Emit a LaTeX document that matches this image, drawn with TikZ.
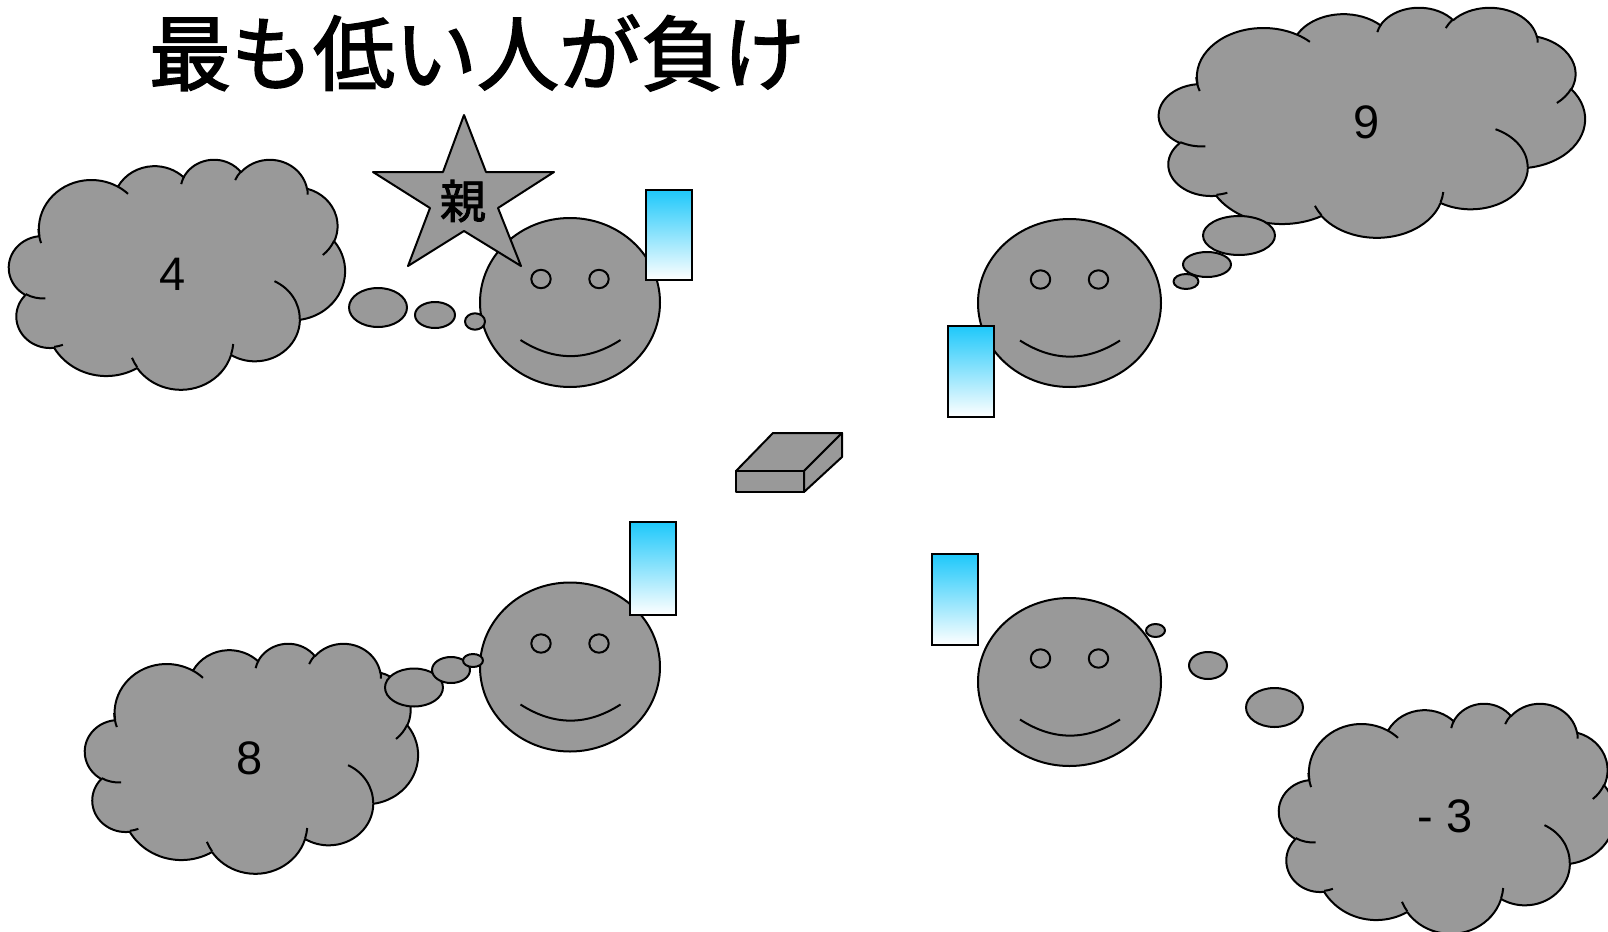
\documentclass[tikz,border=0pt]{standalone}
\usepackage{fontspec}
\setmainfont{Liberation Sans}
\newfontfamily\jpfont[FakeBold=2]{Noto Sans CJK JP}
\definecolor{cgray}{HTML}{999999}
\definecolor{ccyan}{RGB}{30,200,250}

% elliptical arc given by a start angle and a sweep measured as visual (not parametric) angles
\newcommand\cldarc[4]{%
  \pgfextra{%
    \pgfmathsetmacro\cldta{atan2((#1)*sin(#3),(#2)*cos(#3))}%
    \pgfmathsetmacro\cldtb{atan2((#1)*sin((#3)+(#4)),(#2)*cos((#3)+(#4)))}%
    \pgfmathsetmacro\cldtd{mod(\cldtb-\cldta+720,360)}%
    \global\let\cldTa\cldta \global\let\cldTd\cldtd}%
  arc[x radius=#1, y radius=#2, start angle=\cldTa, delta angle=\cldTd]}

% cloud outline: #1,#2 top-left corner, #3 width, #4 height
\newcommand\thoughtcloud[4]{%
  \begin{scope}[shift={(#1,#2)}]
  \begin{scope}[xscale=#3, yscale=#4]
    \filldraw[shapefill]
      (0.090278,0.332639)
      \cldarc{0.156319}{0.212731}{-190.4875}{123.7805}
      \cldarc{0.123449}{0.168218}{-144.1024}{89.9452}
      \cldarc{0.101042}{0.137616}{-145.8079}{99.7230}
      \cldarc{0.112431}{0.152662}{-130.9861}{117.2417}
      \cldarc{0.123449}{0.168356}{-78.7089}{109.0269}
      \cldarc{0.156829}{0.213426}{-46.2673}{130.2690}
      \cldarc{0.133912}{0.182106}{0.6250}{114.0333}
      \cldarc{0.156296}{0.213310}{22.4516}{115.1726}
      \cldarc{0.178704}{0.244051}{66.2426}{75.7110}
      \cldarc{0.100926}{0.136991}{-274.9421}{146.7356}
      \cldarc{0.100579}{0.137616}{-246.8285}{152.5189}
      -- cycle;
    \draw[inner] (0.108634,0.605949) \cldarc{0.100579}{0.137616}{86.7420}{26.4295};
    \draw[inner] (0.160370,0.807847) \cldarc{0.100926}{0.136991}{73.6105}{11.4475};
    \draw[inner] (0.381435,0.904861) \cldarc{0.156296}{0.213310}{137.6242}{14.0811};
    \draw[inner] (0.667292,0.804421) \cldarc{0.156296}{0.213310}{6.4533}{15.9984};
    \draw[inner] (0.790023,0.531343) \cldarc{0.133912}{0.182106}{-70.2924}{70.9174};
    \draw[inner] (0.967546,0.355417) \cldarc{0.123449}{0.168356}{30.3180}{27.7515};
    \draw[inner] (0.887130,0.125602) \cldarc{0.112431}{0.152662}{-13.7443}{14.8589};
    \draw[inner] (0.673102,0.091481) \cldarc{0.112431}{0.152662}{-149.1815}{18.1954};
    \draw[inner] (0.512523,0.109259) \cldarc{0.101042}{0.137616}{-163.4943}{17.6864};
    \draw[inner] (0.324074,0.120185) \cldarc{0.156319}{0.212731}{-66.7070}{12.3194};
    \draw[inner] (0.095532,0.365486) \cldarc{0.156319}{0.212731}{155.6472}{22.1758};
  \end{scope}
  \end{scope}}

% round face: centre and radii; eyes and smile placed relative to the centre
\newcommand\smiley[4]{%
  \draw[shapefill] (#1,#2) ellipse[x radius=#3, y radius=#4];
  \draw[outline] (#1-29,#2-23.5) ellipse[x radius=9.7, y radius=9.2];
  \draw[outline] (#1+29,#2-23.5) ellipse[x radius=9.7, y radius=9.2];
  \draw[outline] (#1-49.5,#2+37.5) .. controls (#1-16,#2+59) and (#1+17,#2+59) .. (#1+50.5,#2+37.5);}

\tikzset{
  shapefill/.style={fill=cgray, draw=black, line width=1pt, line join=round},
  outline/.style={draw=black, line width=1pt},
  inner/.style={draw=black, line width=1pt, line cap=butt},
  card/.style={draw=black, line width=1pt, top color=ccyan, bottom color=white},
  numlbl/.style={inner sep=0pt, font=\fontsize{23.5}{26}\selectfont},
}

\begin{document}
\begin{tikzpicture}[x=0.5pt, y=-0.5pt]
  \useasboundingbox (0,0) rectangle (1608,932);
  \fill[white] (0,0) rectangle (1608,932);

  % title
  \node[inner sep=0pt, font=\jpfont\fontsize{41}{48}\selectfont] (title) at (477,53) {最も低い人が負け};

  % thought clouds
  \thoughtcloud{9}{159}{336}{230}
  \thoughtcloud{1159}{7}{426}{230}
  \thoughtcloud{85}{643}{333}{230}
  \thoughtcloud{1279}{703}{336}{230}

  % faces
  \smiley{570}{302.5}{90}{84.5}
  \smiley{1069.5}{303}{91.5}{84}
  \smiley{570}{667}{90}{84.5}
  \smiley{1069.5}{682}{91.5}{84}

  % thought bubbles, top left
  \draw[shapefill] (378,307.5) ellipse[x radius=29, y radius=19.5];
  \draw[shapefill] (435,315) ellipse[x radius=20, y radius=13];
  \draw[shapefill] (475,321.5) ellipse[x radius=10, y radius=8.2];
  % top right
  \draw[shapefill] (1239,235.5) ellipse[x radius=36, y radius=19.5];
  \draw[shapefill] (1207,264.5) ellipse[x radius=24, y radius=12.5];
  \draw[shapefill] (1186,281.5) ellipse[x radius=12.5, y radius=7.5];
  % bottom left
  \draw[shapefill] (414,687.5) ellipse[x radius=29, y radius=19];
  \draw[shapefill] (451,670) ellipse[x radius=19, y radius=13];
  \draw[shapefill] (473,660.5) ellipse[x radius=10, y radius=6.5];
  % bottom right
  \draw[shapefill] (1155.5,630.5) ellipse[x radius=9.5, y radius=6.5];
  \draw[shapefill] (1208,665.5) ellipse[x radius=19, y radius=13.5];
  \draw[shapefill] (1274.5,707.5) ellipse[x radius=28.5, y radius=19.5];

  % cards
  \draw[card] (646,190) rectangle (692,280);
  \draw[card] (948,326) rectangle (994,417);
  \draw[card] (630,522) rectangle (676,615);
  \draw[card] (932,554) rectangle (978,645);

  % card case in the middle
  \draw[shapefill] (736,471) -- (773,433) -- (842,433) -- (804,471) -- cycle;
  \draw[shapefill] (804,471) -- (842,433) -- (842,457) -- (804,492) -- cycle;
  \draw[shapefill] (736,471) rectangle (804,492);

  % dealer star
  \draw[shapefill] (464,115) -- (486,172) -- (554,172) -- (498,208) -- (521,266)
    -- (464,231) -- (408,266) -- (430,208) -- (373,172) -- (443,172) -- cycle;
  \node[inner sep=0pt, font=\jpfont\fontsize{23}{26}\selectfont] (oya) at (463,201) {親};

  % numbers in the clouds
  \node[numlbl] (n4) at (173,274) {4};
  \node[numlbl] (n9) at (1367,122) {9};
  \node[numlbl] (n8) at (250,758) {8};
  \node[numlbl] (n3) at (1445,816) {- 3};
\end{tikzpicture}
\end{document}
